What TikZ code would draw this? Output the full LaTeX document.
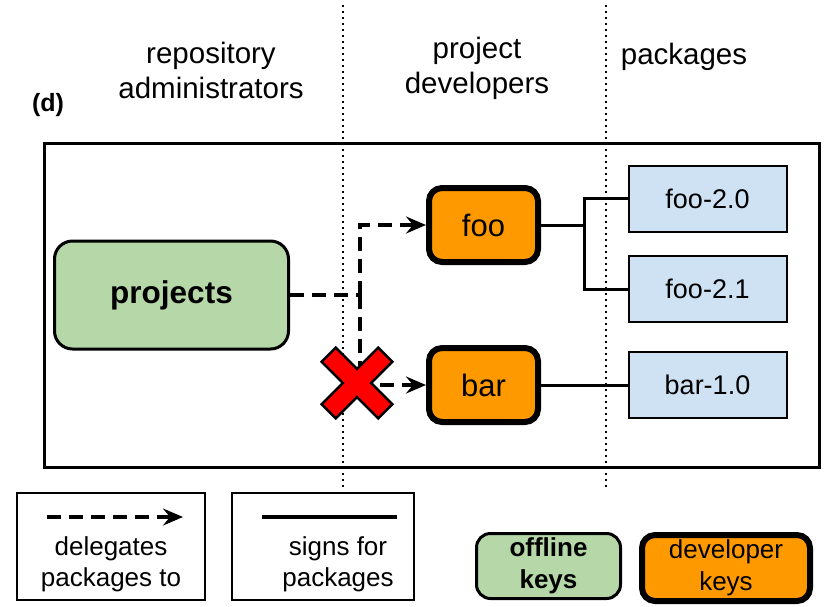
\documentclass[tikz,border=0pt]{standalone}
\usepackage{fontspec}
\setmainfont{Liberation Sans}
\usetikzlibrary{arrows.meta}
\definecolor{kgreen}{HTML}{B6D7A8}
\definecolor{korange}{HTML}{FF9900}
\definecolor{kblue}{HTML}{CFE2F3}
\tikzset{
  hdr/.style={align=center,font=\fontsize{29.5}{35}\selectfont},
  offbox/.style={draw,line width=3pt,fill=kgreen,rounded corners=18pt,align=center,inner sep=0pt},
  devbox/.style={draw,line width=6pt,fill=korange,rounded corners=13pt,align=center,inner sep=0pt},
  pkgbox/.style={draw,line width=2pt,fill=kblue,minimum width=158pt,minimum height=66pt,inner sep=0pt,font=\fontsize{27}{32}\selectfont},
  deleg/.style={line width=3.5pt,dash pattern=on 14pt off 8pt},
  tip/.style={-{Stealth[length=20pt,width=17pt,inset=7pt]}},
  signs/.style={line width=3pt},
  legbox/.style={draw,line width=1.5pt,minimum width=188pt,minimum height=107pt,inner sep=0pt},
  legtext/.style={align=center,font=\fontsize{26}{31}\selectfont},
  sep/.style={line width=1.5pt,dash pattern=on 1.5pt off 4.5pt}
}
\begin{document}
\begin{tikzpicture}[x=1pt,y=-1pt]
\useasboundingbox (0,0) rectangle (827,606);
% separators
\coordinate (s1t) at (343,5); \coordinate (s1b) at (343,490);
\coordinate (s2t) at (606,5); \coordinate (s2b) at (606,490);
\draw[sep] (s1t) -- (s1b);
\draw[sep] (s2t) -- (s2b);
% headers
\node[hdr] (h1) at (211,70) {repository\\administrators};
\node[hdr] (h2) at (477,68) {project\\developers};
\node[hdr] (h3) at (684,57) {packages};
\node[font=\bfseries\fontsize{25}{30}\selectfont] (d) at (48,105) {(d)};
% frame
\node[draw,line width=3pt,minimum width=775pt,minimum height=324pt,inner sep=0pt] (frame) at (431.5,305) {};
% nodes
\node[offbox,minimum width=234pt,minimum height=108pt,font=\bfseries\fontsize{31.5}{36}\selectfont] (projects) at (171.5,295) {projects};
\node[devbox,minimum width=109pt,minimum height=74pt,font=\fontsize{31}{36}\selectfont] (foo) at (483.5,225) {foo};
\node[devbox,minimum width=109pt,minimum height=74pt,font=\fontsize{31}{36}\selectfont] (bar) at (483.5,385) {bar};
\node[pkgbox] (f20) at (707.5,198.5) {foo-2.0};
\node[pkgbox] (f21) at (707.5,289) {foo-2.1};
\node[pkgbox] (b10) at (707.5,385) {bar-1.0};
% signing lines
\coordinate (fj) at (584,225);
\draw[signs] (foo.east) -- (fj);
\draw[signs] (fj) |- (f20.west);
\draw[signs] (fj) |- (f21.west);
\draw[signs] (bar.east) -- (b10.west);
% delegation
\coordinate (j) at (360,295);
\draw[deleg] (projects.east) -- (j);
\draw[deleg,tip] (j) |- (foo.west);
\draw[deleg,tip] (j) |- (bar.west);
% red cross
\begin{scope}[shift={(357,383)},rotate=45]
\draw[line width=2.5pt,fill=red,line join=miter]
 (10,10) -- (40,10) -- (40,-10) -- (10,-10) -- (10,-40) -- (-10,-40) -- (-10,-10) -- (-40,-10) -- (-40,10) -- (-10,10) -- (-10,40) -- (10,40) -- cycle;
\end{scope}
% legend
\node[legbox] (lg1) at (111,546.5) {};
\coordinate (a1) at (47,517); \coordinate (a2) at (183,517);
\draw[deleg,tip] (a1) -- (a2);
\node[legtext] (lt1) at (111,564) {delegates\\packages to};
\node[legbox,minimum width=182pt] (lg2) at (323,546.5) {};
\coordinate (b1) at (262,517); \coordinate (b2) at (397,517);
\draw[line width=4pt] (b1) -- (b2);
\node[legtext] (lt2) at (338,564) {signs for\\packages};
\node[offbox,rounded corners=14pt,minimum width=144pt,minimum height=65pt,font=\bfseries\fontsize{26}{32}\selectfont] (off) at (548.5,566) {offline\\keys};
\node[devbox,minimum width=168pt,minimum height=66pt,font=\fontsize{26}{32}\selectfont] (dev) at (726,568) {developer\\keys};
\end{tikzpicture}
\end{document}
